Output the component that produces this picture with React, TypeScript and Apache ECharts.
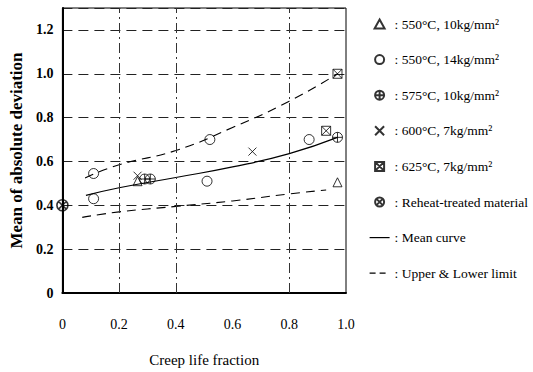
import React, { useEffect, useRef } from "react";
import * as echarts from "echarts";

// ---- data ----
const tri550_10: number[][] = [[0.265, 0.51], [0.97, 0.505]];
const circ550_14: number[][] = [[0.11, 0.43], [0.11, 0.545], [0.51, 0.51], [0.52, 0.7], [0.87, 0.7]];
const plus575_10: number[][] = [[0.29, 0.52], [0.31, 0.52], [0.97, 0.71]];
const cross600_7: number[][] = [[0.265, 0.535], [0.67, 0.645]];
const box625_7: number[][] = [[0.93, 0.74], [0.97, 1.0]];
const reheat: number[][] = [[0, 0.4]];

const meanCurve: number[][] = [[0.083, 0.445], [0.2, 0.48], [0.4, 0.527], [0.6, 0.575], [0.8, 0.636], [0.97, 0.71]];
const upperLimit: number[][] = [[0.08, 0.525], [0.2, 0.585], [0.4, 0.65], [0.6, 0.755], [0.8, 0.875], [0.97, 1.0]];
const lowerLimit: number[][] = [[0.07, 0.345], [0.2, 0.37], [0.4, 0.395], [0.6, 0.42], [0.8, 0.452], [0.93, 0.47]];

const verticalGuides: number[] = [0.2, 0.4, 0.8];

const seriesNames = [
  "550°C, 10kg/mm²",
  "550°C, 14kg/mm²",
  "575°C, 10kg/mm²",
  "600°C, 7kg/mm²",
  "625°C, 7kg/mm²",
  "Reheat-treated material",
  "Mean curve",
  "Upper & Lower limit",
];

const SERIF = "'Liberation Serif', 'DejaVu Serif', serif";

const symTriangle = "path://M5,0 L10,9 L0,9 Z";
const symCircle = "path://M0,5 A5,5 0 1,1 10,5 A5,5 0 1,1 0,5 Z";
const symCirclePlus = "path://M0,5 A5,5 0 1,1 10,5 A5,5 0 1,1 0,5 Z M5,0 L5,10 M0,5 L10,5";
const symCircleX = "path://M0,5 A5,5 0 1,1 10,5 A5,5 0 1,1 0,5 Z M1.5,1.5 L8.5,8.5 M8.5,1.5 L1.5,8.5";
const symCross = "path://M0,0 L10,10 M10,0 L0,10";
const symBoxX = "path://M0,0 L10,0 L10,10 L0,10 Z M0,0 L10,10 M10,0 L0,10";

const hollow = { color: "rgba(0,0,0,0)", borderColor: "#000", borderWidth: 1 };
const noSymbol = { color: "rgba(0,0,0,0)", borderColor: "rgba(0,0,0,0)", borderWidth: 0, opacity: 0 };

export default function App() {
  const ref = useRef<HTMLDivElement>(null);

  useEffect(() => {
    if (!ref.current) return;
    const chart = echarts.init(ref.current, undefined, { renderer: "svg" });

    const scatter = (name: string, data: number[][], symbol: string, size: number, style: any = hollow) => ({
      name,
      type: "scatter",
      data,
      symbol,
      symbolSize: size,
      itemStyle: style,
      clip: false,
      z: 5,
    });

    const option: any = {
      animation: false,
      backgroundColor: "#fff",
      grid: {
        left: 55,
        right: 187,
        top: 8,
        bottom: 76,
        show: true,
        borderColor: "#000",
        borderWidth: 1,
        backgroundColor: "transparent",
      },
      legend: {
        orient: "vertical",
        left: 364,
        top: 12,
        itemWidth: 20,
        itemHeight: 9,
        itemGap: 21.6,
        selectedMode: false,
        formatter: (n: string) => ": " + n,
        textStyle: { fontFamily: SERIF, fontSize: 13.5, color: "#000" },
        data: [
          seriesNames[0],
          seriesNames[1],
          seriesNames[2],
          seriesNames[3],
          seriesNames[4],
          seriesNames[5],
          { name: seriesNames[6], itemStyle: noSymbol, lineStyle: { color: "#000", width: 1.2, type: "solid", opacity: 1 } },
          { name: seriesNames[7], itemStyle: noSymbol, lineStyle: { color: "#000", width: 1.2, type: [6, 4], opacity: 1 } },
        ],
      },
      xAxis: {
        type: "value",
        min: 0,
        max: 1,
        interval: 0.2,
        name: "Creep life fraction",
        nameLocation: "middle",
        nameGap: 59,
        nameTextStyle: { fontFamily: SERIF, fontSize: 15, color: "#000" },
        axisLine: { show: true, lineStyle: { color: "#000", width: 2 } },
        axisTick: { show: false },
        splitLine: { show: false },
        axisLabel: {
          margin: 24,
          fontFamily: SERIF,
          fontSize: 14,
          color: "#000",
          formatter: (v: number) => (v === 0 ? "0" : v.toFixed(1)),
        },
      },
      yAxis: {
        type: "value",
        min: 0,
        max: 1.3,
        interval: 0.2,
        name: "Mean of absolute deviation",
        nameLocation: "middle",
        nameGap: 30,
        nameTextStyle: { fontFamily: SERIF, fontSize: 17, fontWeight: "bold", color: "#000" },
        axisLine: { show: true, lineStyle: { color: "#000", width: 2 } },
        axisTick: { show: false },
        splitLine: { show: true, lineStyle: { color: "#222", width: 1, type: [10, 6] } },
        axisLabel: {
          margin: 9,
          showMaxLabel: false,
          fontFamily: SERIF,
          fontSize: 14,
          fontWeight: "bold",
          color: "#000",
          formatter: (v: number) => (v === 0 ? "0" : v.toFixed(1)),
        },
      },
      series: [
        scatter(seriesNames[0], tri550_10, symTriangle, 9),
        scatter(seriesNames[1], circ550_14, symCircle, 10),
        scatter(seriesNames[2], plus575_10, symCirclePlus, 10),
        scatter(seriesNames[3], cross600_7, symCross, 8),
        scatter(seriesNames[4], box625_7, symBoxX, 9),
        scatter(seriesNames[5], reheat, symCircleX, 11, { color: "rgba(0,0,0,0)", borderColor: "#000", borderWidth: 1.6 }),
        {
          name: seriesNames[6],
          type: "line",
          data: meanCurve,
          smooth: true,
          symbol: "none",
          lineStyle: { color: "#000", width: 1.2 },
          itemStyle: { color: "#000" },
          markLine: {
            silent: true,
            symbol: "none",
            label: { show: false },
            lineStyle: { color: "#333", width: 1, type: [10, 4, 2, 4] },
            data: verticalGuides.map((x) => ({ xAxis: x })),
          },
        },
        {
          name: seriesNames[7],
          type: "line",
          data: upperLimit,
          smooth: true,
          symbol: "none",
          lineStyle: { color: "#000", width: 1.1, type: [9, 6] },
          itemStyle: { color: "#000" },
        },
        {
          name: seriesNames[7],
          type: "line",
          data: lowerLimit,
          smooth: true,
          symbol: "none",
          lineStyle: { color: "#000", width: 1.1, type: [9, 6] },
          itemStyle: { color: "#000" },
        },
      ],
    };

    chart.setOption(option);
    return () => chart.dispose();
  }, []);

  return <div ref={ref} style={{ width: 533, height: 372, position: "absolute", left: 0, top: 0 }} />;
}
